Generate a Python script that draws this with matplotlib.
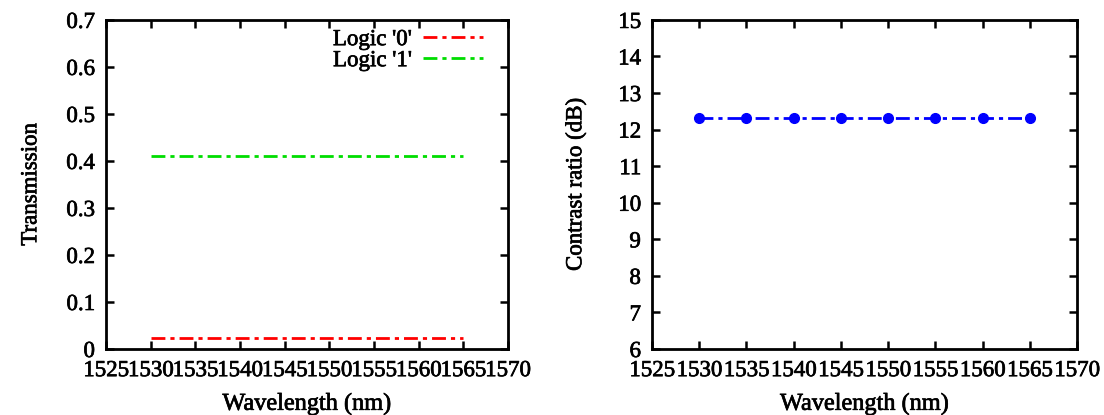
import matplotlib.pyplot as plt
import matplotlib.patheffects as pe
import numpy as np

wavelength = [1530, 1535, 1540, 1545, 1550, 1555, 1560, 1565]
logic0 = [0.024, 0.024, 0.024, 0.024, 0.024, 0.024, 0.024, 0.024]
logic1 = [0.411, 0.411, 0.411, 0.411, 0.411, 0.411, 0.411, 0.411]
contrast = [12.32, 12.32, 12.32, 12.32, 12.32, 12.32, 12.32, 12.32]
xticks = [1525, 1530, 1535, 1540, 1545, 1550, 1555, 1560, 1565, 1570]

plt.rcParams['font.family'] = ['Liberation Serif', 'DejaVu Serif']
plt.rcParams['font.size'] = 16.5

fig = plt.figure(figsize=(11.04, 4.15), dpi=100)
ax1 = fig.add_axes([0.096, 0.159, 0.364, 0.793])
ax2 = fig.add_axes([0.5906, 0.159, 0.3849, 0.793])

dd = (5, 1.8, 1.5, 1.8)
# slightly heavier text, like the original render
thick = [pe.withStroke(linewidth=0.5, foreground='black')]


def style(ax):
    for s in ax.spines.values():
        s.set_linewidth(2)
    ax.tick_params(direction='in', top=True, right=True, length=6, width=1.8,
                   labelsize=16.5, pad=8)
    ax.set_xlim(1525, 1570)
    ax.set_xticks(xticks)
    ax.set_xlabel('Wavelength (nm)', fontsize=17.5, labelpad=9, path_effects=thick)
    for t in ax.get_xticklabels() + ax.get_yticklabels():
        t.set_path_effects(thick)


ax1.plot(wavelength, logic0, color='red', lw=2, dashes=dd, label="Logic '0'")
ax1.plot(wavelength, logic1, color='#00dd00', lw=2, dashes=dd, label="Logic '1'")
ax1.set_ylim(0, 0.7)
ax1.set_yticks(np.arange(0, 0.71, 0.1))
ax1.set_yticklabels(['0', '0.1', '0.2', '0.3', '0.4', '0.5', '0.6', '0.7'])
style(ax1)
ax1.set_ylabel('Transmission', fontsize=16.5, labelpad=18, path_effects=thick)
leg = ax1.legend(loc='upper right', frameon=False, markerfirst=False, handlelength=2.6,
                 handletextpad=0.5, borderaxespad=0.0, labelspacing=0.0,
                 bbox_to_anchor=(0.96, 1.0), fontsize=16.5)
for t in leg.get_texts():
    t.set_path_effects(thick)

ax2.plot(wavelength, contrast, color='blue', lw=2, dashes=dd, marker='o',
         markersize=7, markerfacecolor='blue', markeredgecolor='blue')
ax2.set_ylim(6, 15)
ax2.set_yticks(range(6, 16))
style(ax2)
ax2.set_ylabel('Contrast ratio (dB)', fontsize=16.5, labelpad=23, path_effects=thick)

fig.savefig('out.png', dpi=100)
